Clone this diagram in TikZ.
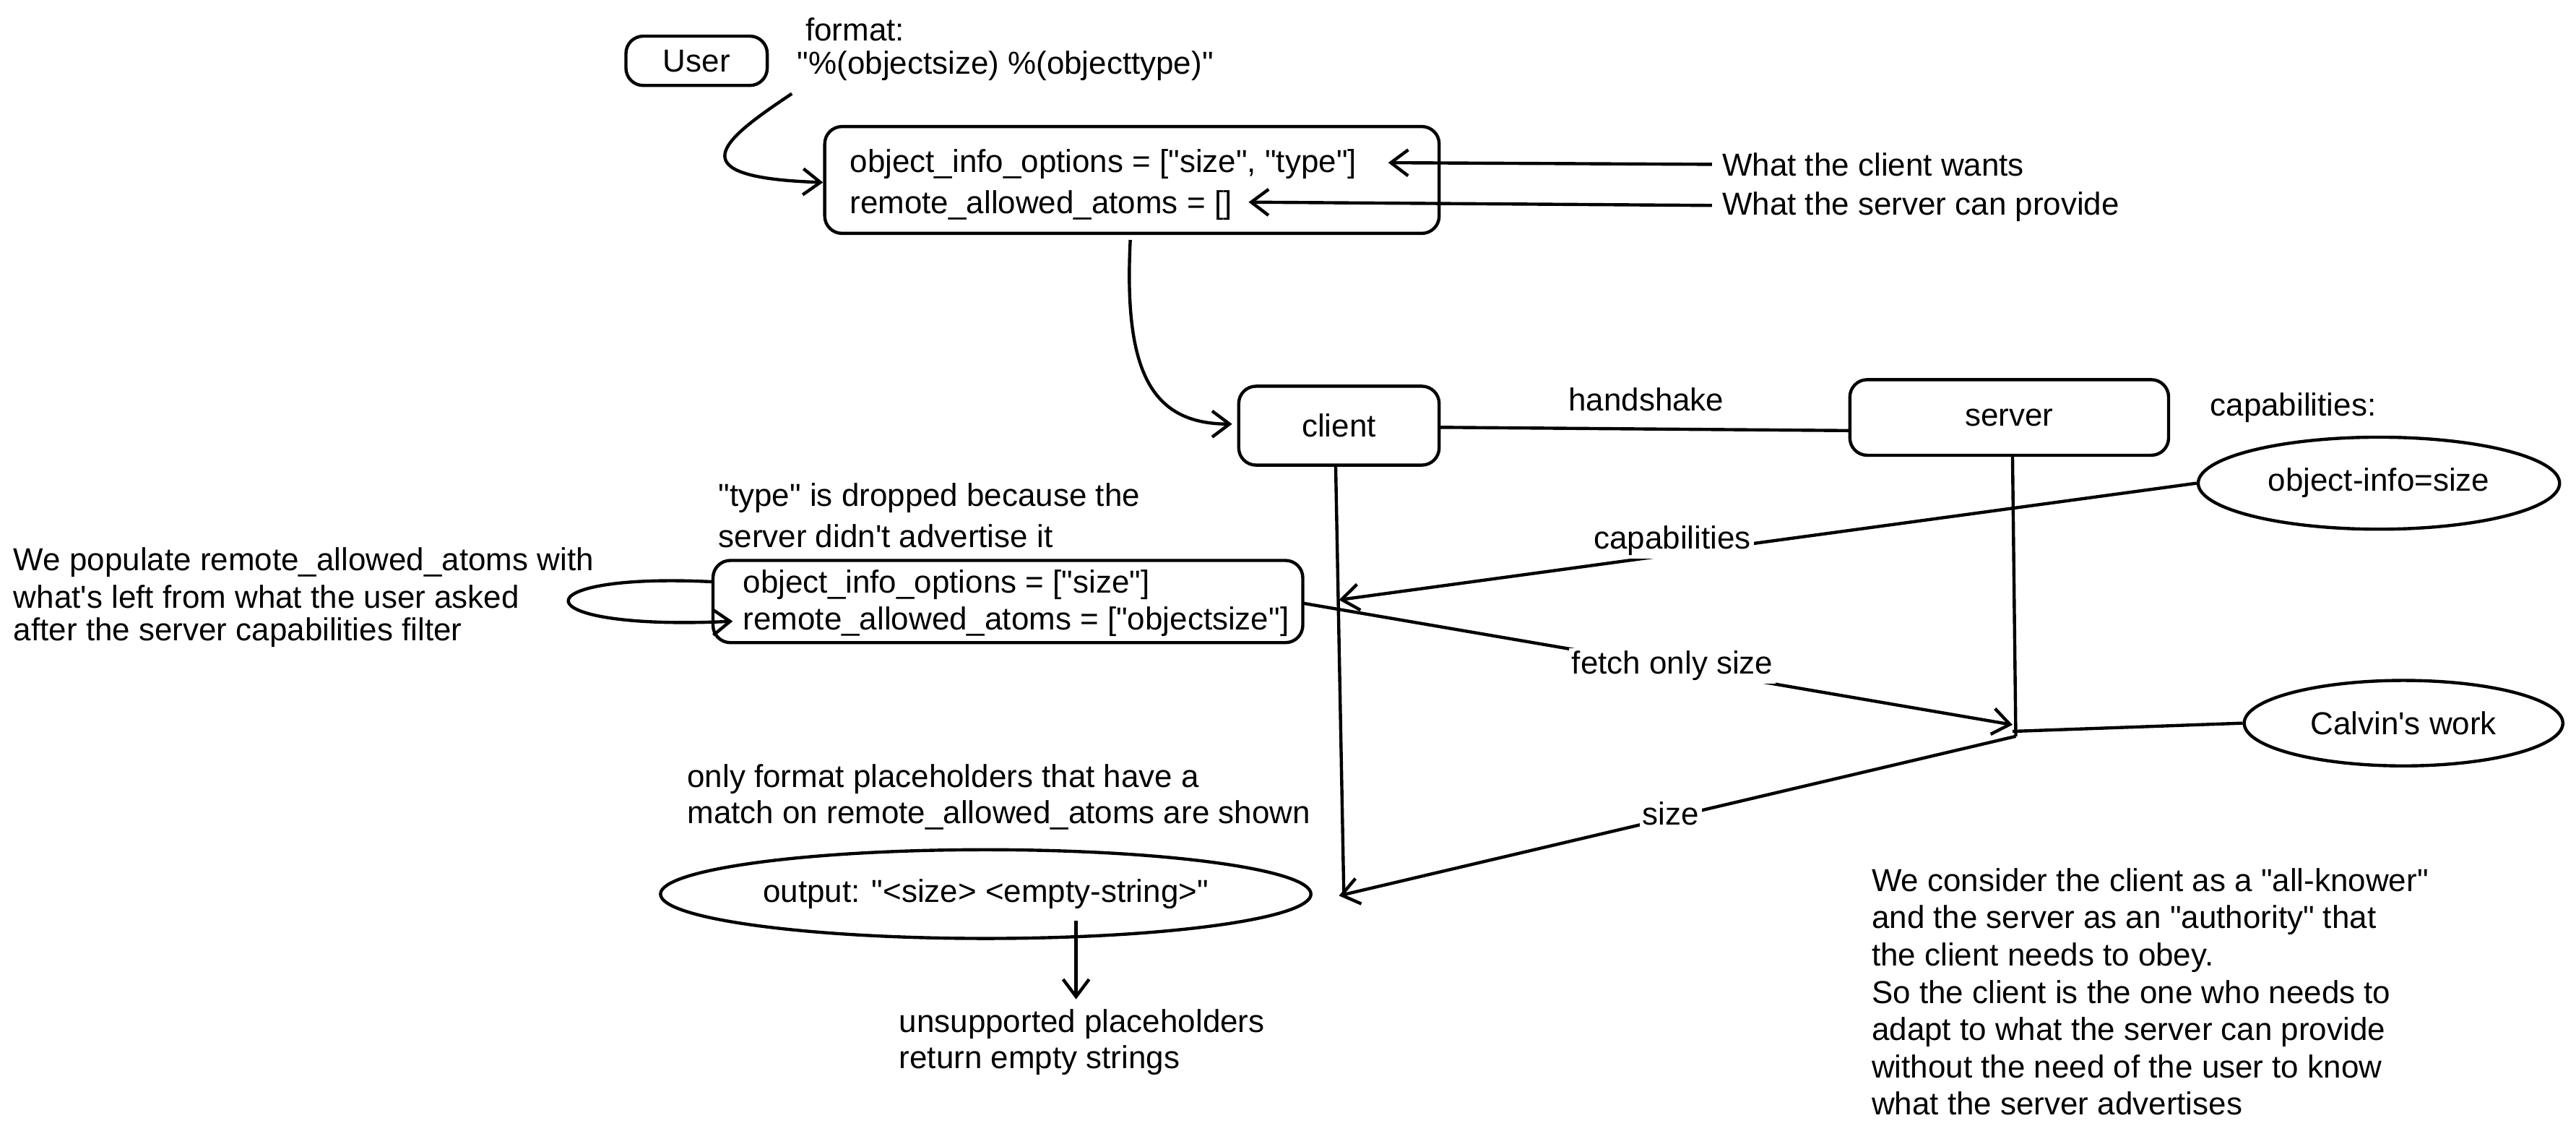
\documentclass[tikz,border=0pt]{standalone}
\usepackage{fontspec}
\setmainfont{Liberation Sans}[Ligatures=TeXReset]
\usetikzlibrary{arrows.meta,shapes.geometric}
\begin{document}
\begin{tikzpicture}[x=0.02cm,y=-0.02cm,
  every node/.style={font=\fontsize{11}{12.5}\selectfont},
  box/.style={draw,line width=1.1pt,rounded corners=6pt},
  ell/.style={draw,line width=1.1pt,ellipse,inner sep=0pt},
  txt/.style={anchor=west,inner sep=0pt},
  ln/.style={line width=1.1pt},
  ar/.style={ln,-{Straight Barb[length=6pt,width=9pt]}}]
\useasboundingbox (0,0) rectangle (1568,688);
% User
\draw[box] (381,22) rectangle (467,52);
\node (user) at (424,37) {User};
\node[txt] (fmt1) at (490,18) {format:};
\node[txt] (fmt2) at (485,40) {"\%(objectsize) \%(objecttype)"};
% box1
\draw[box] (502,77) rectangle (876,142);
\node[txt] (b1a) at (517,100) {object\_info\_options = ["size", "type"]};
\node[txt] (b1b) at (517,125) {remote\_allowed\_atoms = []};
\coordinate (b1l) at (501,111);
\coordinate (b1bot) at (688,146);
\draw[ar] (482,57) .. controls (440,85) and (410,108) .. (b1l);
\node[txt] (w1) at (1048,100) {What the client wants};
\node[txt] (w2) at (1048,126) {What the server can provide};
\draw[ar] (1042,100) -- (845,99);
\draw[ar] (1042,125) -- (760,123);
% client/server
\draw[box] (754,235) rectangle (876,283);
\node (client) at (815,259) {client};
\draw[box] (1126,231) rectangle (1320,277);
\node (server) at (1223,254) {server};
\draw[ar] (b1bot) .. controls (684,225) and (700,258) .. (750,258);
\draw[ln] (876,260) -- (1126,262);
\node (hs) at (1002,243) {handshake};
\node[txt] (capt) at (1345,248) {capabilities:};
\node[ell,minimum width=4.4cm,minimum height=1.12cm] (cap) at (1448,294) {object-info=size};
\coordinate (cTop) at (813,283);
\coordinate (cBot) at (818,545);
\draw[ln] (cTop) -- (cBot);
\coordinate (sTop) at (1225,277);
\coordinate (sBot) at (1227,448);
\draw[ln] (sTop) -- (sBot);
% box2
\draw[box] (434,341) rectangle (793,391);
\node[txt] (b2a) at (452,356) {object\_info\_options = ["size"]};
\node[txt] (b2b) at (452,378) {remote\_allowed\_atoms = ["objectsize"]};
\node[txt] (d1) at (437,303) {"type" is dropped because the};
\node[txt] (d2) at (437,326) {server didn't advertise it};
\node[txt] (l1) at (8,342) {We populate remote\_allowed\_atoms with};
\node[txt] (l2) at (8,363) {what's left from what the user asked};
\node[txt] (l3) at (8,385) {after the server capabilities filter};
\draw[ar] (434,354) .. controls (315,348) and (315,384) .. (446,378);
\draw[ar] (cap.west) -- (815,365);
\node[fill=white,inner sep=1pt] (capl) at (1018,329) {capabilities};
\draw[ar] (793,367) -- (1225,441);
\node[fill=white,inner sep=1pt] (fos) at (1018,405) {fetch only size};
\node[ell,minimum width=3.88cm,minimum height=1.04cm] (calvin) at (1463,440) {Calvin's work};
\draw[ln] (1225,445) -- (calvin.west);
\draw[ar] (1227,448) -- (815,545);
\node[fill=white,inner sep=1pt] (sz) at (1017,495) {size};
% output
\node[txt] (o1) at (418,474) {only format placeholders that have a};
\node[txt] (o2) at (418,496) {match on remote\_allowed\_atoms are shown};
\node[ell,minimum width=7.92cm,minimum height=1.08cm] (out) at (600,544) {output: "<size> <empty-string>"};
\draw[ar] (655,560) -- (655,608);
\node[txt] (u1) at (547,623) {unsupported placeholders};
\node[txt] (u2) at (547,645) {return empty strings};
% right paragraph
\node[inner sep=0pt,align=left,anchor=north west,font=\fontsize{11}{12.9}\selectfont] (para) at (1139,528) {We consider the client as a "all-knower"\\and the server as an "authority" that\\the client needs to obey.\\So the client is the one who needs to\\adapt to what the server can provide\\without the need of the user to know\\what the server advertises};
\end{tikzpicture}
\end{document}
